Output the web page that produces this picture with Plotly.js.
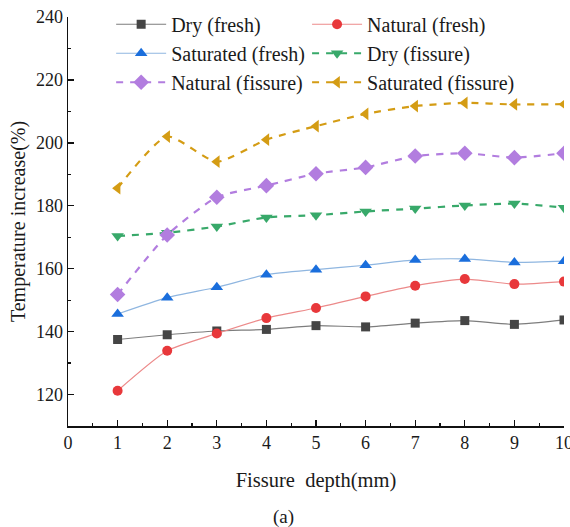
<!DOCTYPE html>
<html>
<head>
<meta charset="utf-8">
<script src="https://cdn.plot.ly/plotly-3.0.1.min.js"></script>
<style>
  html, body { margin: 0; padding: 0; background: #fff; }
  #chart { width: 570px; height: 527px; }
</style>
</head>
<body>
<div id="chart"></div>
<script>
// Fissure depth (mm)
const depth = [1, 2, 3, 4, 5, 6, 7, 8, 9, 10];

// Temperature increase (%) per moisture condition
const dryFresh        = [137.5, 139.0, 140.2, 140.7, 141.9, 141.5, 142.7, 143.5, 142.3, 143.7];
const naturalFresh    = [121.2, 133.9, 139.4, 144.3, 147.5, 151.2, 154.6, 156.7, 155.1, 155.9];
const saturatedFresh  = [145.6, 150.8, 154.1, 158.1, 159.7, 161.1, 162.8, 163.1, 162.0, 162.4];
const dryFissure      = [170.4, 171.4, 173.4, 176.3, 177.0, 178.2, 179.1, 180.1, 180.7, 179.4];
const naturalFissure  = [151.8, 170.7, 182.7, 186.4, 190.2, 192.2, 195.8, 196.7, 195.3, 196.7];
const saturatedFissure = [185.6, 202.0, 194.0, 201.0, 205.3, 209.2, 211.7, 212.7, 212.2, 212.3];

const seriesNames = [
  'Dry (fresh)', 'Natural (fresh)', 'Saturated (fresh)',
  'Dry (fissure)', 'Natural (fissure)', 'Saturated (fissure)'
];

const serif = "'Liberation Serif', 'Times New Roman', serif";
const ink = '#1a1a1a';

function fresh(name, y, lineColor, markerColor, symbol, size, legendId) {
  return {
    x: depth, y: y, name: name, type: 'scatter', mode: 'lines+markers', legend: legendId,
    line: { color: lineColor, width: 1.2, shape: 'spline', smoothing: 0.6 },
    marker: { color: markerColor, symbol: symbol, size: size }
  };
}
function fissure(name, y, color, symbol, size, legendId) {
  return {
    x: depth, y: y, name: name, type: 'scatter', mode: 'lines+markers', legend: legendId,
    line: { color: color, width: 2.2, dash: '7px,7px', shape: 'spline', smoothing: 0.6 },
    marker: { color: color, symbol: symbol, size: size }
  };
}

// Two legend columns, filled row by row
const traces = [
  fresh(seriesNames[0], dryFresh, '#7d7d7d', '#454545', 'square', 9, 'legend'),
  fresh(seriesNames[1], naturalFresh, '#ec8a8a', '#e8383b', 'circle', 10, 'legend2'),
  fresh(seriesNames[2], saturatedFresh, '#8fb6e0', '#1a6edc', 'triangle-up', 11, 'legend'),
  fissure(seriesNames[3], dryFissure, '#38a96a', 'triangle-down', 11, 'legend2'),
  fissure(seriesNames[4], naturalFissure, '#b27ddf', 'diamond', 12, 'legend'),
  fissure(seriesNames[5], saturatedFissure, '#d49c14', 'triangle-left', 11, 'legend2')
];

const legendBase = {
  orientation: 'v', yanchor: 'top', xanchor: 'left', y: 1.03,
  itemwidth: 50, bgcolor: 'rgba(0,0,0,0)', traceorder: 'normal',
  font: { family: serif, size: 20, color: ink }
};

const layout = {
  width: 570, height: 527,
  margin: { l: 68, r: 6, t: 17, b: 101, autoexpand: false },
  paper_bgcolor: '#fff', plot_bgcolor: '#fff',
  font: { family: serif, size: 18, color: ink },
  showlegend: true,
  legend: Object.assign({}, legendBase, { x: 0.087 }),
  legend2: Object.assign({}, legendBase, { x: 0.482 }),
  xaxis: {
    range: [0, 10], dtick: 1, tick0: 0,
    showgrid: false, zeroline: false,
    showline: true, linecolor: '#111', linewidth: 1.5, mirror: false,
    ticks: 'inside', ticklen: 6, tickwidth: 1.3, tickcolor: '#111',
    minor: { ticks: 'inside', dtick: 0.5, ticklen: 3, tickwidth: 1.2, tickcolor: '#111', showgrid: false },
    tickfont: { family: serif, size: 18, color: ink },
    ticklabeloverflow: 'allow',
    title: { text: 'Fissure&nbsp; depth(mm)', standoff: 20, font: { family: serif, size: 20.5, color: ink } }
  },
  yaxis: {
    range: [110, 240], dtick: 20, tick0: 0,
    showgrid: false, zeroline: false,
    showline: true, linecolor: '#111', linewidth: 1.5, mirror: false,
    ticks: 'inside', ticklen: 6, tickwidth: 1.3, tickcolor: '#111',
    minor: { ticks: 'inside', dtick: 10, ticklen: 3, tickwidth: 1.2, tickcolor: '#111', showgrid: false },
    tickfont: { family: serif, size: 18, color: ink },
    title: { text: 'Temperature increase(%)', standoff: 5, font: { family: serif, size: 20, color: ink } }
  },
  annotations: [{
    text: '(a)', xref: 'paper', yref: 'paper', x: 0.435, y: -0.222,
    xanchor: 'center', yanchor: 'middle', showarrow: false,
    font: { family: serif, size: 19, color: ink }
  }]
};

Plotly.newPlot('chart', traces, layout, { displayModeBar: false, staticPlot: true });
</script>
</body>
</html>
